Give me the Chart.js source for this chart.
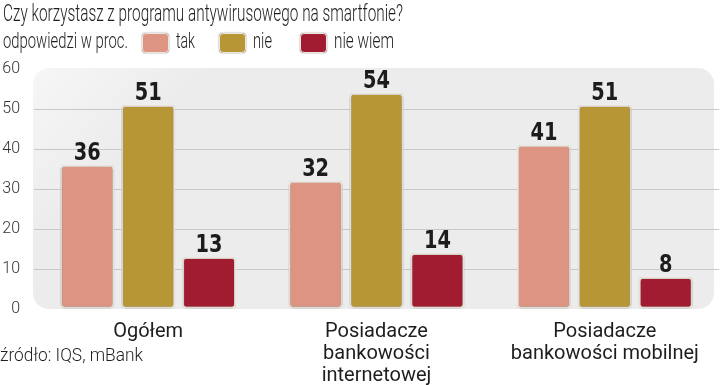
<!DOCTYPE html>
<html><head><meta charset="utf-8">
<script src="https://cdn.jsdelivr.net/npm/chart.js@4.4.1/dist/chart.umd.min.js"></script>
<style>
body{margin:0;background:#fff;}
#wrap{position:relative;width:720px;height:385px;overflow:hidden;}
.t{position:absolute;font-family:Roboto,sans-serif;font-weight:300;color:#1e1e1e;white-space:nowrap;line-height:1;transform-origin:0 0;}
.box{position:absolute;width:25px;height:18px;border-radius:4px;border:1.5px solid #eee6dc;box-shadow:0 0 1.5px rgba(0,0,0,0.6);}
</style></head><body>
<div id="wrap">
<canvas id="c" width="720" height="385"></canvas>
</div>
<script>
const titleText = "Czy korzystasz z programu antywirusowego na smartfonie?";
const subText = "odpowiedzi w proc.";
const sourceText = "źródło:  IQS, mBank";
const categories = [["Ogółem"], ["Posiadacze", "bankowości", "internetowej"], ["Posiadacze", "bankowości mobilnej"]];
const seriesNames = ["tak", "nie", "nie wiem"];
const seriesColors = ["#dd9482", "#b79636", "#a11c30"];
const takValues = [36, 32, 41];
const nieValues = [51, 54, 51];
const nieWiemValues = [13, 14, 8];
const yTicks = [0, 10, 20, 30, 40, 50, 60];

const wrap = document.getElementById('wrap');
function addText(txt, left, top, size, targetW) {
  const d = document.createElement('div');
  d.className = 't';
  d.style.left = left + 'px';
  d.style.top = top + 'px';
  d.style.fontSize = size + 'px';
  d.textContent = txt;
  wrap.appendChild(d);
  const w = d.getBoundingClientRect().width;
  if (targetW && w > 0) d.style.transform = 'scaleX(' + (targetW / w) + ')';
  return d;
}
addText(titleText, 3, 2, 23, 400);
addText(subText, 3, 30, 22, 125);
const legendPos = [[142, 176, 19], [219, 253, 19], [300, 334, 60]];
seriesNames.forEach((n, i) => {
  const b = document.createElement('div');
  b.className = 'box';
  b.style.left = legendPos[i][0] + 'px';
  b.style.top = '33px';
  b.style.background = seriesColors[i];
  wrap.appendChild(b);
  addText(n, legendPos[i][1], 30, 22, legendPos[i][2]);
});
addText(sourceText, 0, 346, 18, 143);

const bgPlugin = {
  id: 'bg',
  beforeDraw(chart) {
    const {ctx, chartArea: a} = chart;
    const x = a.left - 1, y = a.top - 1, w = 714 - x, h = a.bottom - y;
    const g = ctx.createLinearGradient(x, y, x + 90, y + 90);
    g.addColorStop(0, '#f6f6f6');
    g.addColorStop(1, '#ececec');
    ctx.save();
    ctx.fillStyle = g;
    ctx.beginPath();
    ctx.roundRect(x, y, w, h, 16);
    ctx.fill();
    ctx.restore();
  }
};
const shadowPlugin = {
  id: 'shadow',
  beforeDatasetsDraw(chart) {
    const ctx = chart.ctx;
    ctx.save();
    ctx.shadowColor = 'rgba(0,0,0,0.45)';
    ctx.shadowBlur = 2;
  },
  afterDatasetsDraw(chart) {
    chart.ctx.restore();
  }
};
const labelPlugin = {
  id: 'vals',
  afterDatasetsDraw(chart) {
    const ctx = chart.ctx;
    chart.data.datasets.forEach((ds, di) => {
      chart.getDatasetMeta(di).data.forEach((bar, i) => {
        ctx.save();
        ctx.font = 'bold 25px "DejaVu Sans Condensed", sans-serif';
        ctx.fillStyle = '#1c1c1c';
        ctx.textAlign = 'center';
        ctx.textBaseline = 'alphabetic';
        ctx.translate(bar.x, bar.y - 5);
        ctx.scale(0.86, 1);
        ctx.fillText(String(ds.data[i]), 0, 0);
        ctx.restore();
      });
    });
  }
};

new Chart(document.getElementById('c'), {
  type: 'bar',
  data: {
    labels: categories,
    datasets: [
      {label: seriesNames[0], data: takValues, backgroundColor: seriesColors[0]},
      {label: seriesNames[1], data: nieValues, backgroundColor: seriesColors[1]},
      {label: seriesNames[2], data: nieWiemValues, backgroundColor: seriesColors[2]}
    ].map(d => Object.assign(d, {borderColor: '#f2ebe1', borderWidth: 2, borderRadius: 4, borderSkipped: false, categoryPercentage: 0.8, barPercentage: 0.885}))
  },
  options: {
    responsive: false,
    animation: false,
    layout: {padding: {top: 69, right: 1, left: 0, bottom: 0}},
    plugins: {legend: {display: false}, tooltip: {enabled: false}},
    scales: {
      x: {
        grid: {display: false},
        border: {display: false},
        ticks: {font: {family: 'Roboto', size: 20, lineHeight: 1.1}, color: '#1e1e1e', padding: 4, maxRotation: 0, autoSkip: false},
        afterFit(s) { s.height = 76; }
      },
      y: {
        min: 0, max: 60,
        afterBuildTicks(s) { s.ticks = yTicks.map(v => ({value: v})); },
        grid: {color: c => (c.tick && (c.tick.value === 0 || c.tick.value === 60)) ? 'rgba(0,0,0,0)' : '#c8c8c8', drawTicks: false, lineWidth: 1},
        border: {display: false},
        ticks: {font: {family: 'Roboto', size: 16, weight: 300}, color: '#333', padding: 14, align: 'center', crossAlign: 'near'},
        afterFit(s) { s.width = 34; }
      }
    }
  },
  plugins: [bgPlugin, shadowPlugin, labelPlugin]
});
</script>
</body></html>
